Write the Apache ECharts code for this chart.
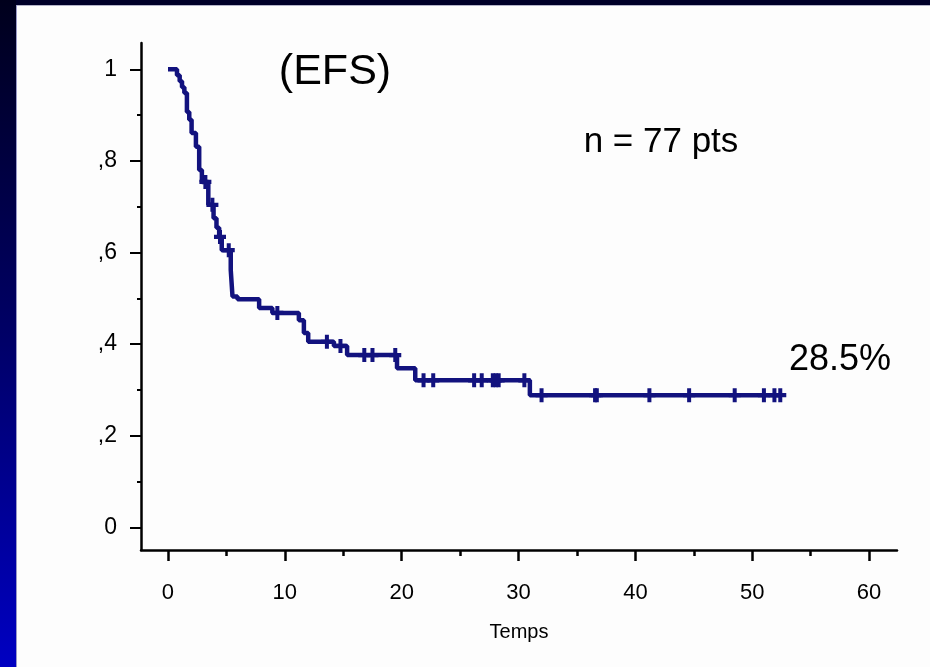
<!DOCTYPE html>
<html>
<head>
<meta charset="utf-8">
<script src="https://cdn.jsdelivr.net/npm/echarts@6/dist/echarts.min.js"></script>
<style>
  html, body { margin: 0; padding: 0; width: 930px; height: 667px; overflow: hidden; background: #fdfdfd; }
  #topband { position: absolute; left: 0; top: 0; width: 930px; height: 5px; background: #000028; }
  #topline { position: absolute; left: 16px; top: 5px; width: 914px; height: 1px; background: #b4b4c8; }
  #leftbar { position: absolute; left: 0; top: 0; width: 16px; height: 667px; background: linear-gradient(to bottom, #00001c, #000066 50%, #0000c2); }
  #leftline { position: absolute; left: 16px; top: 5px; width: 1px; height: 662px; background: #9a9ac8; }
  #chart { position: absolute; left: 0; top: 0; width: 930px; height: 667px; }
</style>
</head>
<body>
<div id="topband"></div>
<div id="leftbar"></div>
<div id="topline"></div>
<div id="leftline"></div>
<div id="chart"></div>
<script>
// ---- data ----
var eventTimes = [0, 0.77, 1.0, 1.2, 1.4, 1.62, 1.82, 2.02, 2.39, 2.67, 2.9, 3.45, 3.9, 4.15, 4.38, 4.6, 5.37, 5.52, 5.95, 7.8, 8.93, 11.2, 11.63, 12.0, 14.2, 15.33, 19.6, 21.16, 30.97, 52.4];
var survival   = [1, 0.987, 0.974, 0.961, 0.948, 0.907, 0.890, 0.861, 0.831, 0.780, 0.754, 0.704, 0.675, 0.654, 0.634, 0.605, 0.562, 0.504, 0.498, 0.479, 0.468, 0.452, 0.424, 0.405, 0.396, 0.376, 0.347, 0.321, 0.2885, 0.2885];
var censorTimes = [3.2, 3.8, 4.45, 5.2, 9.36, 13.6, 14.76, 16.8, 17.5, 19.45, 21.87, 22.7, 26.2, 26.85, 27.8, 28.05, 28.3, 30.5, 31.97, 36.55, 36.7, 41.2, 44.6, 48.5, 51.0, 51.9, 52.4];
var xMajorTicks = [0, 10, 20, 30, 40, 50, 60];
var xMinorTicks = [5, 15, 25, 35, 45, 55];
var yMajorTicks = [0, 0.2, 0.4, 0.6, 0.8, 1];
var yTickLabels = ['0', ',2', ',4', ',6', ',8', '1'];
var yMinorTicks = [0.1, 0.3, 0.5, 0.7, 0.9];
var xAxisName = 'Temps';
var titleText = '(EFS)';
var nText = 'n = 77 pts';
var finalText = '28.5%';

function survAt(t) {
  var s = survival[0];
  for (var i = 0; i < eventTimes.length; i++) { if (eventTimes[i] <= t) s = survival[i]; }
  return s;
}
var curveData = eventTimes.map(function (t, i) { return [t, survival[i]]; });
var censorData = censorTimes.map(function (t) { return [t, survAt(t)]; });

var FONT = 'Liberation Sans, Arial, sans-serif';
var NAVY = '#12127e';
var XMIN = -2.31, XMAX = 62.39, YMIN = -0.0496, YMAX = 1.0574;

var chart = echarts.init(document.getElementById('chart'), null, { renderer: 'canvas' });
chart.setOption({
  backgroundColor: 'transparent',
  animation: false,
  grid: { left: 141, right: 33, top: 43, bottom: 117, containLabel: false },
  xAxis: [{
    type: 'value', min: XMIN, max: XMAX,
    name: xAxisName, nameLocation: 'middle', nameGap: 72,
    nameTextStyle: { fontFamily: FONT, fontSize: 20, color: '#000' },
    axisLine: { show: true, onZero: false, lineStyle: { color: '#000', width: 2.5 } },
    axisTick: { show: true, customValues: xMajorTicks, length: 11, lineStyle: { color: '#000', width: 2.5 } },
    axisLabel: { show: true, customValues: xMajorTicks, margin: 32, fontFamily: FONT, fontSize: 22, color: '#000' },
    splitLine: { show: false }
  }, {
    type: 'value', min: XMIN, max: XMAX, position: 'bottom',
    axisLine: { show: false, onZero: false },
    axisTick: { show: true, customValues: xMinorTicks, length: 6, lineStyle: { color: '#000', width: 2.5 } },
    axisLabel: { show: false },
    splitLine: { show: false }
  }],
  yAxis: [{
    type: 'value', min: YMIN, max: YMAX,
    axisLine: { show: true, onZero: false, lineStyle: { color: '#000', width: 2.5 } },
    axisTick: { show: true, customValues: yMajorTicks, length: 11, lineStyle: { color: '#000', width: 2 } },
    axisLabel: {
      show: true, customValues: yMajorTicks, margin: 24, fontFamily: FONT, fontSize: 23, color: '#000',
      formatter: function (v) {
        for (var i = 0; i < yMajorTicks.length; i++) { if (Math.abs(yMajorTicks[i] - v) < 1e-6) return yTickLabels[i]; }
        return '';
      }
    },
    splitLine: { show: false }
  }, {
    type: 'value', min: YMIN, max: YMAX, position: 'left',
    axisLine: { show: false, onZero: false },
    axisTick: { show: true, customValues: yMinorTicks, length: 4, lineStyle: { color: '#000', width: 2 } },
    axisLabel: { show: false },
    splitLine: { show: false }
  }],
  series: [{
    type: 'line', step: 'end', data: curveData,
    xAxisIndex: 0, yAxisIndex: 0,
    showSymbol: false, symbol: 'none',
    lineStyle: { color: NAVY, width: 4.5 },
    z: 3
  }, {
    type: 'scatter', data: censorData,
    xAxisIndex: 0, yAxisIndex: 0,
    symbol: 'path://M4,0H8V13H4Z M0,4.5H12V8.5H0Z',
    symbolSize: [12, 14],
    itemStyle: { color: NAVY, opacity: 1 },
    z: 4
  }],
  graphic: [
    { type: 'text', x: 335, y: 72, style: { text: titleText, fontFamily: FONT, fontSize: 43, fill: '#000', align: 'center', verticalAlign: 'middle' } },
    { type: 'text', x: 661, y: 142, style: { text: nText, fontFamily: FONT, fontSize: 35, fill: '#000', align: 'center', verticalAlign: 'middle' } },
    { type: 'text', x: 840, y: 360, style: { text: finalText, fontFamily: FONT, fontSize: 36, fill: '#000', align: 'center', verticalAlign: 'middle' } }
  ]
});
</script>
</body>
</html>
